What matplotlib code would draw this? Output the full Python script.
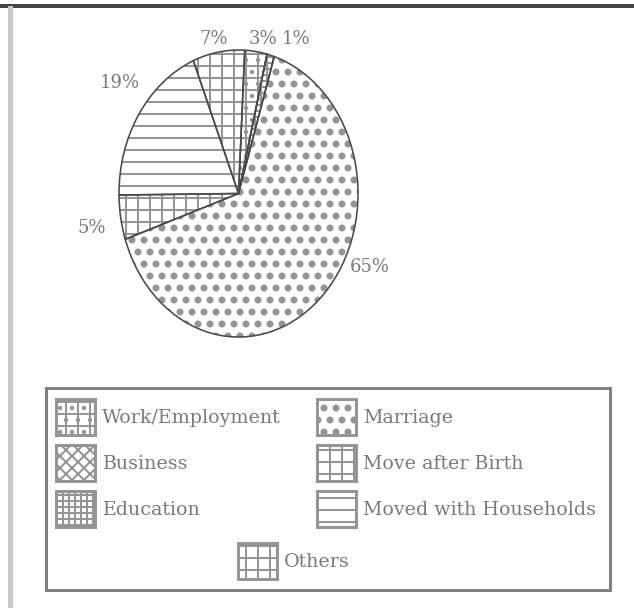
import matplotlib
matplotlib.use('Agg')
import matplotlib.pyplot as plt
from matplotlib.patches import Patch, Rectangle
from matplotlib.lines import Line2D

# ---- data ----
categories = ["Work/Employment", "Business", "Education", "Marriage",
              "Move after Birth", "Moved with Households", "Others"]
shares = [3, 0, 1, 65, 5, 19, 7]
pct_labels = ["3%", "", "1%", "65%", "5%", "19%", "7%"]

# ---- style ----
hatches = ['+.', 'xx', '++', 'o.', '+', '-', '+']
label_xy = [(0.205, 1.08), (0.0, 1.08), (0.48, 1.08), (1.10, -0.51),
            (-1.23, -0.24), (-0.99, 0.77), (-0.21, 1.08)]
TXT = '#7a7a7a'
HATCH = '#959595'
FONT = 'DejaVu Serif'

plt.rcParams['hatch.linewidth'] = 2.0

DPI = 72
W, H = 634, 608
fig = plt.figure(figsize=(W / DPI, H / DPI), dpi=DPI)
fig.patch.set_facecolor('white')

ax = fig.add_axes([0.150, 0.3985, 0.4524, 0.5664])
wedges, texts = ax.pie(shares, labels=pct_labels, startangle=87, counterclock=False,
                       wedgeprops=dict(facecolor='white', edgecolor=HATCH, linewidth=0),
                       labeldistance=1.12,
                       textprops=dict(family=FONT, size=18, color=TXT))
for w, h in zip(wedges, hatches):
    w.set_hatch(h)
for t, (x, y) in zip(texts, label_xy):
    t.set_position((x, y))
    t.set_ha('center')
    t.set_va('center')
ax.pie(shares, startangle=87, counterclock=False,
       wedgeprops=dict(fill=False, edgecolor='#4a4a4a', linewidth=1.6))
ax.set_aspect('auto')
ax.set_xlim(-1.2, 1.2)
ax.set_ylim(-1.2, 1.2)
ax.axis('off')

# page decorations
fig.add_artist(Line2D([0, 1], [1 - 6 / H] * 2, transform=fig.transFigure,
                      color='#444444', lw=4))
fig.add_artist(Line2D([9.5 / W] * 2, [0, 1 - 8 / H], transform=fig.transFigure,
                      color='#c8c8c8', lw=5))
fig.add_artist(Rectangle((46 / W, 1 - 590 / H), (610 - 46) / W, (590 - 388) / H,
                         transform=fig.transFigure, fill=False,
                         edgecolor='#808080', lw=3))

handles = [Patch(facecolor='white', edgecolor=HATCH, hatch=h, linewidth=3, label=c)
           for c, h in zip(categories, hatches)]

fs = 19
hh = (36 - 0.245 * fs) / (0.65 * fs)
common = dict(frameon=False, prop=dict(family=FONT, size=fs), labelcolor=TXT,
              handlelength=39 / fs, handleheight=hh, labelspacing=10 / fs,
              handletextpad=0.35, borderpad=0, borderaxespad=0, loc='upper left')
fig.legend(handles=handles[0:3], bbox_to_anchor=(56 / W, 1 - 399 / H), **common)
fig.legend(handles=handles[3:6], bbox_to_anchor=(317 / W, 1 - 399 / H), **common)
fig.legend(handles=handles[6:7], bbox_to_anchor=(238 / W, 1 - 543 / H), **common)

fig.savefig('out.png', dpi=DPI, facecolor='white')
